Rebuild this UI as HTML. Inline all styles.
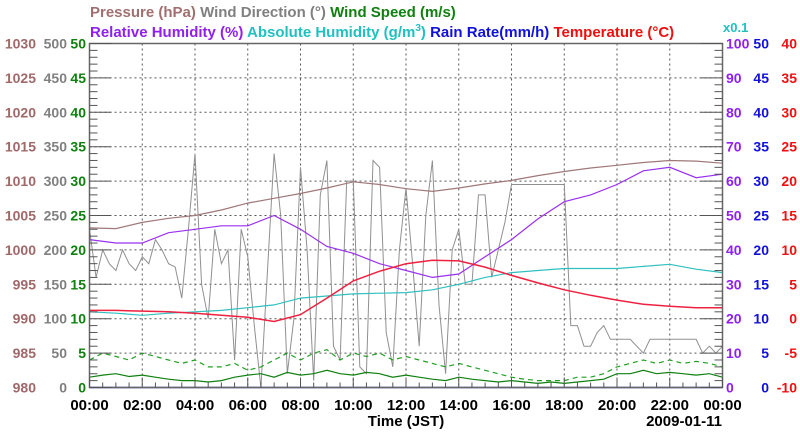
<!DOCTYPE html>
<html><head><meta charset="utf-8"><style>
html,body{margin:0;padding:0;background:#fff;}
svg{display:block;font-family:"Liberation Sans",sans-serif;font-weight:bold;}
</style></head><body>
<svg id="chart" width="800" height="434" viewBox="0 0 800 434" xmlns="http://www.w3.org/2000/svg">
<text x="90" y="17" font-size="15"><tspan fill="#a07070">Pressure (hPa)</tspan> <tspan fill="#808080">Wind Direction (°)</tspan> <tspan fill="#108010">Wind Speed (m/s)</tspan></text>
<text x="90" y="37" font-size="15"><tspan fill="#9020f0">Relative Humidity (%)</tspan> <tspan fill="#20c0c0">Absolute Humidity (g/m<tspan font-size="10" dy="-6">3</tspan><tspan dy="6">)</tspan></tspan> <tspan fill="#1010e0">Rain Rate(mm/h)</tspan> <tspan fill="#f01010">Temperature (°C)</tspan></text>
<text x="723" y="32" font-size="13" fill="#20c0c0">x0.1</text>
<g id="grid"></g><g id="series"></g><g id="axes"></g>
<text x="406" y="426" font-size="15" text-anchor="middle" fill="#000">Time (JST)</text>
<text x="722" y="426" font-size="15" text-anchor="end" fill="#000">2009-01-11</text>
</svg>
<script>
const hours = [0,1,2,3,4,5,6,7,8,9,10,11,12,13,14,15,16,17,18,19,20,21,22,23,24];
const pressure = [1003.2,1003.1,1004.0,1004.6,1005.0,1005.8,1006.8,1007.5,1008.2,1009.0,1009.9,1009.5,1008.9,1008.5,1009.0,1009.6,1010.1,1010.8,1011.4,1011.9,1012.3,1012.7,1013.0,1012.9,1012.6];
const temperature = [1.2,1.2,1.1,1.0,0.8,0.5,0.2,-0.4,0.6,3.0,5.5,6.9,8.0,8.5,8.4,7.5,6.3,5.2,4.2,3.4,2.7,2.1,1.8,1.6,1.6];
const relHumidity = [43,42,42,45,46,47,47,50,46,41,39,36,34,32,33,38,43,49,54,56,59,63,64,61,62];
const absHumidity = [11,10.8,10.5,10.8,11,11.2,11.6,12,13,13.3,13.6,13.7,13.8,14.2,15,16,16.7,17,17.3,17.3,17.3,17.6,17.9,17.2,16.7];
const halfHours = [0,0.5,1,1.5,2,2.5,3,3.5,4,4.5,5,5.5,6,6.5,7,7.5,8,8.5,9,9.5,10,10.5,11,11.5,12,12.5,13,13.5,14,14.5,15,15.5,16,16.5,17,17.5,18,18.5,19,19.5,20,20.5,21,21.5,22,22.5,23,23.5,24];
const quarterHours = [0,0.25,0.5,0.75,1,1.25,1.5,1.75,2,2.25,2.5,2.75,3,3.25,3.5,3.75,4,4.25,4.5,4.75,5,5.25,5.5,5.75,6,6.25,6.5,6.75,7,7.25,7.5,7.75,8,8.25,8.5,8.75,9,9.25,9.5,9.75,10,10.25,10.5,10.75,11,11.25,11.5,11.75,12,12.25,12.5,12.75,13,13.25,13.5,13.75,14,14.25,14.5,14.75,15,15.25,15.5,15.75,16,16.25,16.5,16.75,17,17.25,17.5,17.75,18,18.25,18.5,18.75,19,19.25,19.5,19.75,20,20.25,20.5,20.75,21,21.25,21.5,21.75,22,22.25,22.5,22.75,23,23.25,23.5,23.75,24];
const windDir = [230,160,200,180,170,200,180,170,190,180,215,200,180,175,130,230,340,150,100,230,180,200,40,230,190,90,0,170,340,250,20,100,320,200,10,280,330,60,40,300,300,30,20,330,320,80,30,200,290,180,60,250,330,120,20,200,230,150,150,280,280,160,200,240,295,295,295,295,295,295,295,295,295,90,90,60,60,80,90,70,70,70,70,60,50,70,70,70,70,70,70,70,70,50,60,50,60];
const windSpeed = [1.5,1.8,2,1.6,1.8,1.5,1.2,1,1,0.8,1,1.5,1.8,2,1.5,2.2,1.8,2,2.5,2,1.8,2.2,2,1.5,1.8,1.5,1.2,1,1.5,1.2,1,0.8,1,0.8,0.6,0.8,0.6,0.8,1,1.2,2,2,2.5,2,2.2,2,1.8,2,1.5];
const windGust = [4,5,4.5,4,5,4.5,4,3.5,4,3,3,3.5,2.5,3,4,5,4,5,5.5,4,5,4.5,5,4,4.5,4,3.5,3,3.5,3,2.5,2,1.5,1.2,1,1,1,1.5,1.5,2,3,3.5,4,3.5,4,3.5,3.8,3.5,3];
const rainRate = [0,0,0,0,0,0,0,0,0,0,0,0,0,0,0,0,0,0,0,0,0,0,0,0,0];
const pressureTicks = [980,985,990,995,1000,1005,1010,1015,1020,1025,1030];
const dirTicks = [0,50,100,150,200,250,300,350,400,450,500];
const speedTicks = [0,5,10,15,20,25,30,35,40,45,50];
const rhTicks = [0,10,20,30,40,50,60,70,80,90,100];
const rainTicks = [0,5,10,15,20,25,30,35,40,45,50];
const tempTicks = [-10,-5,0,5,10,15,20,25,30,35,40];
const timeLabels = ["00:00","02:00","04:00","06:00","08:00","10:00","12:00","14:00","16:00","18:00","20:00","22:00","00:00"];

const X0=89.5,X1=722.5,Y0=387.5,Y1=43.5,NS="http://www.w3.org/2000/svg";
const xs=h=>X0+h/24*(X1-X0);
const ys=(v,lo,hi)=>Y0-(v-lo)/(hi-lo)*(Y0-Y1);
function mk(tag,attrs,parent){const e=document.createElementNS(NS,tag);for(const k in attrs)e.setAttribute(k,attrs[k]);parent.appendChild(e);return e;}
const grid=document.getElementById('grid'),ser=document.getElementById('series'),ax=document.getElementById('axes');
for(let i=1;i<10;i++){const y=Y0-i*(Y0-Y1)/10;const l=mk('line',{x1:X0,x2:X1,y1:y,y2:y,stroke:'#555','stroke-dasharray':'2,3','stroke-width':1},grid);

}
for(let i=1;i<12;i++){const x=xs(i*2);const l=mk('line',{x1:x,x2:x,y1:Y1,y2:Y0,stroke:'#555','stroke-dasharray':'2,3','stroke-width':1},grid);

}
function line(xsArr,vals,lo,hi,color,name,dash,w){
 const pts=vals.map((v,i)=>xs(xsArr[i]).toFixed(1)+','+ys(v,lo,hi).toFixed(1)).join(' ');
 const p=mk('polyline',{points:pts,fill:'none',stroke:color,'stroke-width':w||1.2},ser);
 if(dash)p.setAttribute('stroke-dasharray',dash);
 
 }
line(quarterHours,windDir,0,500,'#909090','wind-direction-line',null,1);
line(halfHours,windGust,0,50,'#20a020','wind-gust-line','5,4');
line(halfHours,windSpeed,0,50,'#108010','wind-speed-line');
line(hours,rainRate,0,50,'#3030d0','rain-rate-line',null,1.5);
line(hours,pressure,980,1030,'#a07878','pressure-line');
line(hours,absHumidity,0,50,'#30c0c0','absolute-humidity-line');
line(hours,relHumidity,0,100,'#9a30f0','relative-humidity-line');
line(hours,temperature,-10,40,'#f02040','temperature-line',null,1.5);
const fr=mk('rect',{x:X0,y:Y1,width:X1-X0,height:Y0-Y1,fill:'none',stroke:'#666','stroke-width':1.5},ax);


for(let i=0;i<=50;i++){const y=Y0-i*(Y0-Y1)/50;const len=i%5==0?22:8;
 mk('line',{x1:X0,x2:X0+len,y1:y,y2:y,stroke:'#555'},ax);mk('line',{x1:X1,x2:X1-len,y1:y,y2:y,stroke:'#555'},ax);}
for(let i=0;i<=48;i++){const x=xs(i/2);mk('line',{x1:x,x2:x,y1:Y0,y2:Y0-(i%4==0?10:5),stroke:'#555'},ax);}
function labels(arr,x,anchor,color,name){arr.forEach((v,i)=>{const t=mk('text',{x:x,y:ys(i,0,arr.length-1)+5,'text-anchor':anchor,fill:color,'font-size':14},ax);t.textContent=v;
 
 });}
labels(pressureTicks,36,'end','#a06868','pressure-tick');
labels(dirTicks,67,'end','#808080','wind-direction-tick');
labels(speedTicks,86,'end','#108010','wind-speed-tick');
labels(rhTicks,726,'start','#9020f0','humidity-tick');
labels(rainTicks,769,'end','#1010e0','rain-tick');
labels(tempTicks,797,'end','#f01010','temperature-tick');
timeLabels.forEach((s,i)=>{const t=mk('text',{x:xs(i*2),y:410,'text-anchor':'middle',fill:'#000','font-size':15},ax);t.textContent=s;
 
 });
</script>
</body></html>
